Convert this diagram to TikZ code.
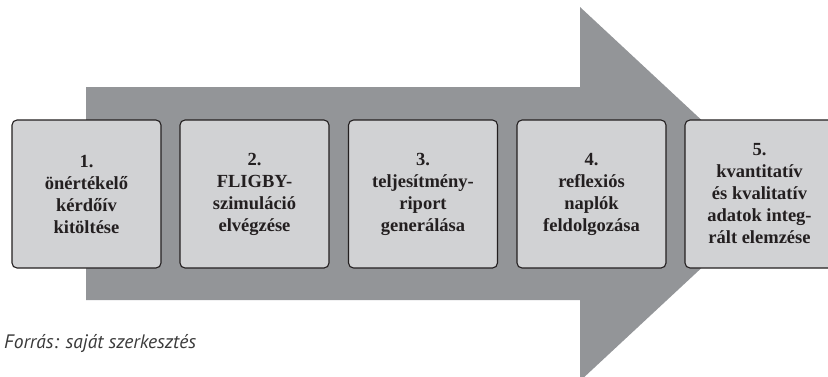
\documentclass[tikz,border=0pt]{standalone}
\usepackage{fontspec}
\setmainfont{Liberation Serif}
\newfontfamily\capfont{PT Sans}
\definecolor{arrowgrey}{HTML}{939598}
\definecolor{boxgrey}{HTML}{D1D2D4}
\definecolor{boxline}{HTML}{231F20}
\definecolor{captext}{HTML}{3A3A3A}
\tikzset{
  stepbox/.style={draw=boxline, fill=boxgrey, line width=1.1pt, rounded corners=5pt,
    minimum width=149pt, minimum height=148pt, inner sep=0pt, align=center,
    text=boxline, font=\fontsize{18.5pt}{22pt}\selectfont\bfseries},
  bigarrow/.style={fill=arrowgrey, draw=none}
}
\begin{document}
\begin{tikzpicture}[x=1pt,y=-1pt]
\useasboundingbox (0,0) rectangle (828,376);
\fill[white] (0,0) rectangle (828,376);
% big arrow
\fill[bigarrow] (86,87) -- (580,87) -- (580,7) -- (781,194) -- (580,381) -- (580,300) -- (86,300) -- cycle;
% steps
\node[stepbox] (s1) at (86.5,194) {1.\\önértékelő\\kérdőív\\kitöltése};
\node[stepbox] (s2) at (254.5,194) {2.\\FLIGBY-\\szimuláció\\elvégzése};
\node[stepbox] (s3) at (423,194) {3.\\teljesítmény-\\riport\\generálása};
\node[stepbox] (s4) at (591.5,194) {4.\\reflexiós\\naplók\\feldolgozása};
\node[stepbox] (s5) at (759.5,194) {5.\\kvantitatív\\és kvalitatív\\adatok integ-\\rált elemzése};
% caption
\node[anchor=base west, inner sep=0pt, text=captext, font=\capfont\itshape\fontsize{19.5pt}{21pt}\selectfont] (cap) at (4,348) {Forrás: saját szerkesztés};
\end{tikzpicture}
\end{document}
